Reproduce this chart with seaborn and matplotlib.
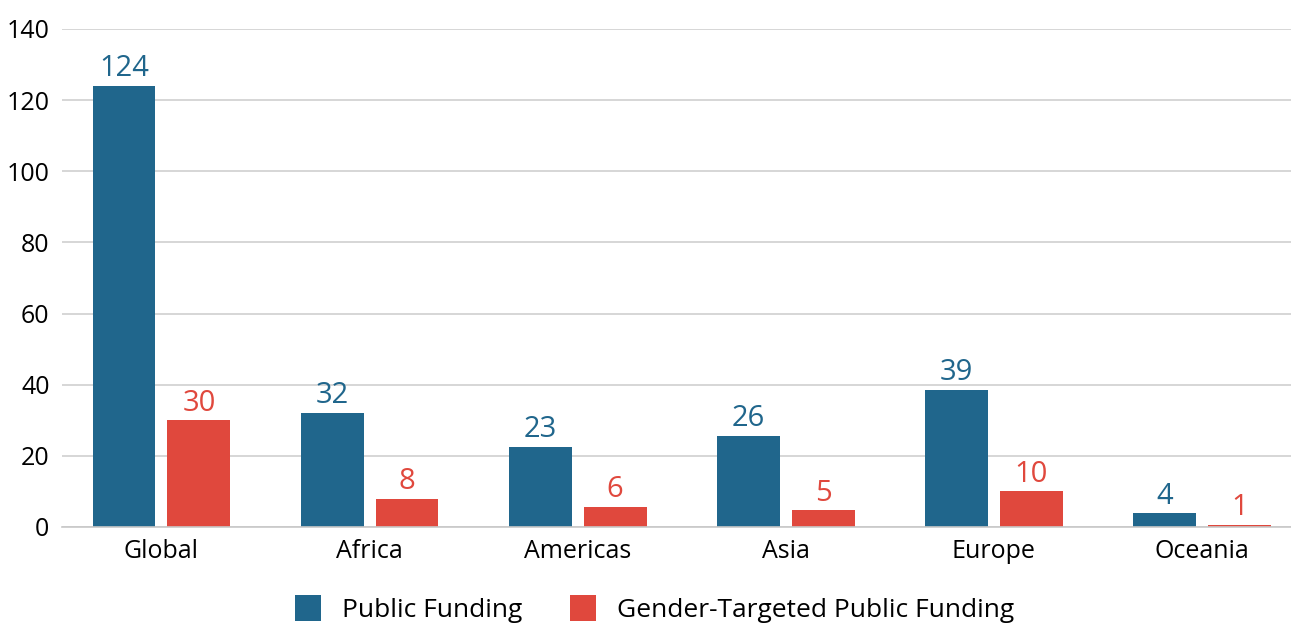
import matplotlib
matplotlib.use("Agg")
import matplotlib.pyplot as plt
import seaborn as sns
import pandas as pd

regions = ["Global", "Africa", "Americas", "Asia", "Europe", "Oceania"]
public_funding = [124, 32, 22.6, 25.6, 38.6, 3.8]
gender_funding = [30, 8, 5.6, 4.7, 10, 0.6]
series_names = ["Public Funding", "Gender-Targeted Public Funding"]
colors = ["#20668C", "#E0483D"]

df = pd.DataFrame({
    "Region": regions * 2,
    "Value": public_funding + gender_funding,
    "Series": [series_names[0]] * len(regions) + [series_names[1]] * len(regions),
})

sns.set_theme(style="white")
plt.rcParams["font.family"] = ["Open Sans", "DejaVu Sans"]

fig = plt.figure(figsize=(12.91, 6.28), dpi=100)
ax = fig.add_axes([62 / 1291, 101 / 628, (1291 - 62) / 1291, (527 - 29) / 628])

sns.barplot(data=df, x="Region", y="Value", hue="Series", palette=colors,
            width=0.72, gap=0.16, ax=ax, legend=True, saturation=1,
            linewidth=0, edgecolor="none")

for cont, col in zip(ax.containers, colors):
    ax.bar_label(cont, fmt="%.0f", padding=2, color=col, fontsize=21)

ax.set_ylim(0, 140)
ax.set_xlim(-0.478, 5.428)
ax.set_yticks(range(0, 141, 20))
ax.yaxis.grid(True, color="#D0D0D0", linewidth=1.2)
ax.set_axisbelow(True)
ax.set_xlabel("")
ax.set_ylabel("")
for s in ["top", "right", "left"]:
    ax.spines[s].set_visible(False)
ax.spines["bottom"].set_color("#C8C8C8")
ax.spines["bottom"].set_linewidth(1.2)
ax.tick_params(axis="both", length=0, labelsize=18, colors="black")
ax.tick_params(axis="y", pad=9)
ax.tick_params(axis="x", pad=9)

ax.get_legend().remove()
handles, labels = ax.get_legend_handles_labels()
fig.legend(handles[:2], labels[:2], loc="center", bbox_to_anchor=(0.507, 0.030),
           ncol=2, frameon=False, fontsize=19, handlelength=1.0, handleheight=1.1,
           columnspacing=1.8, handletextpad=0.8, labelcolor="black")

fig.savefig("out.png", dpi=100)
